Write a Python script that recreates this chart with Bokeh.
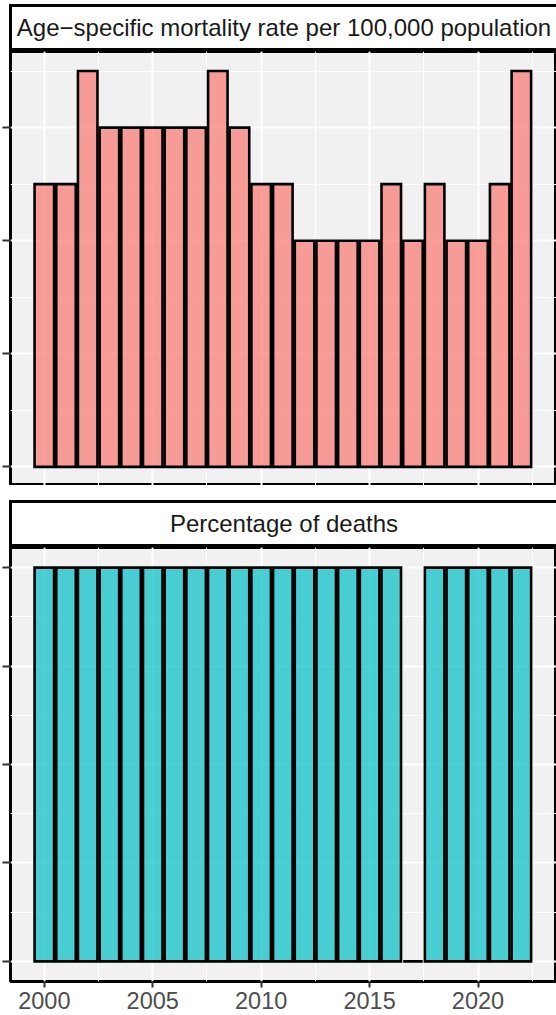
from bokeh.plotting import figure
from bokeh.models import Range1d, SingleIntervalTicker, Div, Spacer
from bokeh.layouts import column
from bokeh.embed import file_html
from bokeh.resources import INLINE

# ---- data ----
years = list(range(2000, 2023))
mortality_rate = [2.5, 2.5, 3.5, 3, 3, 3, 3, 3, 3.5, 3, 2.5, 2.5,
                  2, 2, 2, 2, 2.5, 2, 2.5, 2, 2, 2.5, 3.5]
pct_deaths = [100, 100, 100, 100, 100, 100, 100, 100, 100, 100, 100, 100,
              100, 100, 100, 100, 100, 0, 100, 100, 100, 100, 100]
titles = ["Age\u2212specific mortality rate per 100,000 population",
          "Percentage of deaths"]

# ---- style ----
FONT = "Liberation Sans"
PAGE_W = 556
W = 559          # panels run slightly past the right edge, as in the reference
LEFT = 10
X0, X1 = 1998.44, 2023.62


def strip(text, h, top):
    return Div(text=text, width=W - 9, height=h, margin=(top, 0, 0, 9),
               styles={"border": "3px solid black", "box-sizing": "border-box",
                       "background": "white", "text-align": "center",
                       "font-family": FONT, "font-size": "24px",
                       "line-height": f"{h - 6}px", "color": "#1A1A1A",
                       "overflow": "hidden", "white-space": "nowrap"})


def panel(values, color, y0, y1, step, h, show_x):
    p = figure(width=W, height=h, x_range=Range1d(X0, X1), y_range=Range1d(y0, y1),
               output_backend="svg", toolbar_location=None,
               min_border_left=LEFT, min_border_right=0, min_border_top=0,
               min_border_bottom=34 if show_x else 0)
    p.background_fill_color = "#F1F1F1"
    p.border_fill_color = "white"
    p.outline_line_color = "black"
    p.outline_line_width = 3

    p.vbar(x=years, top=values, bottom=0, width=0.9, fill_color=color,
           fill_alpha=0.7, line_color="black", line_width=2.6, line_join="miter")

    xt = SingleIntervalTicker(interval=5, num_minor_ticks=2)
    yt = SingleIntervalTicker(interval=step, num_minor_ticks=2)
    p.xaxis.ticker = xt
    p.yaxis.ticker = yt
    p.xgrid.ticker = xt
    p.ygrid.ticker = yt
    for g in (p.xgrid, p.ygrid):
        g.grid_line_color = "white"
        g.grid_line_width = 2
        g.minor_grid_line_color = "white"
        g.minor_grid_line_width = 1

    for ax in (p.xaxis, p.yaxis):
        ax.axis_line_color = None
        ax.major_tick_line_color = "#333333"
        ax.major_tick_line_width = 2
        ax.major_tick_in = 0
        ax.minor_tick_line_color = None
        ax.major_label_text_font = FONT
        ax.major_label_text_font_size = "23.5px"
        ax.major_label_text_color = "#4D4D4D"
    p.xaxis.major_tick_out = 6
    p.xaxis.major_label_standoff = 4
    p.yaxis.major_tick_out = 8

    ytick_vals = [i * step for i in range(0, int(y1 // step) + 1)]
    p.yaxis.major_label_overrides = {v: "" for v in ytick_vals}
    p.yaxis.major_label_standoff = 0
    p.xaxis.visible = show_x
    return p


p1 = panel(mortality_rate, "#F8766D", -0.165, 3.673, 1, 434, False)
p2 = panel(pct_deaths, "#00BFC4", -5.1, 105.1, 25, 468, True)

layout = column(strip(titles[0], 47, 4), p1, Spacer(width=W, height=15),
                strip(titles[1], 47, 0), p2, spacing=0,
                width=PAGE_W, styles={"overflow": "hidden"})

open("out.html", "w").write(file_html(layout, INLINE))
